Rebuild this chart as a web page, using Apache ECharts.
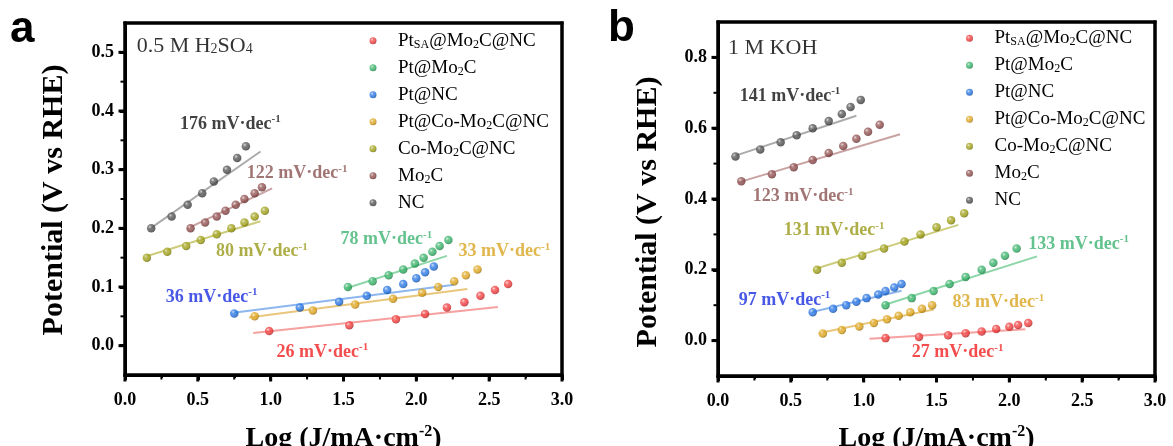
<!DOCTYPE html>
<html><head><meta charset="utf-8">
<script src="https://cdn.jsdelivr.net/npm/echarts@6/dist/echarts.min.js"></script>
<style>html,body{margin:0;padding:0;background:#fff}#c{width:1173px;height:446px}</style>
</head><body><div id="c"></div>
<script>
// ---------- DATA ----------
const names = ['PtSA@Mo2C@NC', 'Pt@Mo2C', 'Pt@NC', 'Pt@Co-Mo2C@NC', 'Co-Mo2C@NC', 'Mo2C', 'NC'];
const xRange = [0, 3];
const xMajorTicks = [0, 0.5, 1.0, 1.5, 2.0, 2.5, 3.0];
const xMinorTicks = [0.25, 0.75, 1.25, 1.75, 2.25, 2.75];
const acidYRange = [-0.05, 0.55];
const acidYTicks = [0, 0.1, 0.2, 0.3, 0.4, 0.5];
const acidYMinor = [0.05, 0.15, 0.25, 0.35, 0.45];
const alkYRange = [-0.1, 0.9];
const alkYTicks = [0, 0.2, 0.4, 0.6, 0.8];
const alkYMinor = [0.1, 0.3, 0.5, 0.7];

// 0.5 M H2SO4 : log J values
const acidLogJ = [
  [0.99, 1.54, 1.86, 2.06, 2.21, 2.33, 2.44, 2.54, 2.63],
  [1.53, 1.70, 1.81, 1.91, 1.99, 2.05, 2.11, 2.16, 2.22],
  [0.75, 1.20, 1.47, 1.66, 1.80, 1.91, 2.00, 2.06, 2.12],
  [0.89, 1.29, 1.58, 1.84, 2.04, 2.15, 2.26, 2.34, 2.42],
  [0.15, 0.29, 0.42, 0.52, 0.63, 0.73, 0.82, 0.89, 0.96],
  [0.45, 0.55, 0.63, 0.69, 0.76, 0.82, 0.89, 0.94],
  [0.18, 0.32, 0.43, 0.53, 0.61, 0.70, 0.77, 0.83]
];
// 0.5 M H2SO4 : potential values
const acidPotential = [
  [0.025, 0.035, 0.045, 0.054, 0.065, 0.074, 0.085, 0.095, 0.105],
  [0.10, 0.11, 0.12, 0.13, 0.14, 0.15, 0.16, 0.17, 0.18],
  [0.055, 0.065, 0.075, 0.085, 0.095, 0.105, 0.115, 0.125, 0.135],
  [0.05, 0.06, 0.07, 0.08, 0.09, 0.10, 0.11, 0.12, 0.13],
  [0.15, 0.16, 0.17, 0.18, 0.19, 0.20, 0.21, 0.22, 0.23],
  [0.20, 0.21, 0.22, 0.23, 0.24, 0.25, 0.26, 0.27],
  [0.20, 0.22, 0.24, 0.26, 0.28, 0.30, 0.32, 0.34]
];
// Tafel fit lines [logJ0, E0, logJ1, E1]
const acidFit = [
  [0.88, 0.0216, 2.56, 0.066],
  [1.52, 0.098, 2.21, 0.153],
  [0.73, 0.0556, 2.26, 0.104],
  [0.85, 0.048, 2.35, 0.0965],
  [0.13, 0.151, 0.93, 0.212],
  [0.43, 0.200, 1.01, 0.268],
  [0.17, 0.199, 0.93, 0.331]
];
const acidTafel = [26, 78, 36, 33, 80, 122, 176];

// 1 M KOH
const alkLogJ = [
  [1.15, 1.38, 1.58, 1.70, 1.81, 1.91, 2.00, 2.06, 2.13],
  [1.15, 1.33, 1.48, 1.59, 1.70, 1.81, 1.89, 1.97, 2.05],
  [0.65, 0.79, 0.88, 0.95, 1.02, 1.10, 1.15, 1.21, 1.26],
  [0.72, 0.85, 0.97, 1.07, 1.16, 1.24, 1.32, 1.40, 1.47],
  [0.68, 0.85, 0.99, 1.14, 1.28, 1.39, 1.50, 1.60, 1.69],
  [0.16, 0.37, 0.52, 0.65, 0.76, 0.86, 0.95, 1.03, 1.11],
  [0.12, 0.29, 0.43, 0.54, 0.65, 0.76, 0.85, 0.91, 0.98]
];
const alkPotential = [
  [0.007, 0.010, 0.015, 0.021, 0.026, 0.033, 0.039, 0.044, 0.050],
  [0.10, 0.12, 0.14, 0.16, 0.18, 0.20, 0.22, 0.24, 0.26],
  [0.08, 0.09, 0.10, 0.11, 0.12, 0.13, 0.14, 0.15, 0.16],
  [0.02, 0.03, 0.04, 0.05, 0.06, 0.07, 0.08, 0.09, 0.10],
  [0.20, 0.22, 0.24, 0.26, 0.28, 0.30, 0.32, 0.34, 0.36],
  [0.45, 0.47, 0.49, 0.51, 0.53, 0.55, 0.57, 0.59, 0.61],
  [0.52, 0.54, 0.56, 0.58, 0.60, 0.62, 0.64, 0.66, 0.68]
];
const alkFit = [
  [1.04, 0.005, 2.11, 0.032],
  [1.13, 0.099, 2.19, 0.238],
  [0.64, 0.080, 1.26, 0.141],
  [0.69, 0.021, 1.48, 0.088],
  [0.67, 0.203, 1.65, 0.327],
  [0.14, 0.447, 1.25, 0.583],
  [0.11, 0.521, 0.95, 0.635]
];
const alkTafel = [27, 133, 97, 83, 131, 123, 141];

// ---------- STYLE / LAYOUT ----------
const SERIF = '"Liberation Serif", "Times New Roman", serif';
const SANS = '"Liberation Sans", Arial, sans-serif';
const pointColors = ['#ee3535', '#2fae62', '#1f6fe0', '#dca116', '#9c9c10', '#8a4646', '#4a4a4a'];
const fitColors = ['#f6a0a0', '#8cd6a8', '#8db7ee', '#e8c77c', '#cccc7c', '#c9a2a2', '#ababab'];
const labelColors = ['#f02020', '#3cb371', '#1a2ee0', '#d9a520', '#9a9a1a', '#8b5252', '#111111'];
const legendText = {
  'PtSA@Mo2C@NC': 'Pt{sub|SA}@Mo{sub|2}C@NC', 'Pt@Mo2C': 'Pt@Mo{sub|2}C', 'Pt@NC': 'Pt@NC',
  'Pt@Co-Mo2C@NC': 'Pt@Co-Mo{sub|2}C@NC', 'Co-Mo2C@NC': 'Co-Mo{sub|2}C@NC', 'Mo2C': 'Mo{sub|2}C', 'NC': 'NC'
};
// slope label anchors (left edge, vertical centre) in data coords
const acidLabelAt = [[1.04, -0.011], [1.48, 0.181], [0.28, 0.083], [2.29, 0.160], [0.625, 0.160], [0.836, 0.294], [0.378, 0.378]];
const alkLabelAt = [[1.33, -0.033], [2.13, 0.273], [0.142, 0.115], [1.61, 0.107], [0.452, 0.311], [0.239, 0.407], [0.149, 0.691]];

function mix(hex, target, t) {
  const a = parseInt(hex.slice(1), 16), b = parseInt(target.slice(1), 16);
  const r = Math.round(((a >> 16) & 255) * (1 - t) + ((b >> 16) & 255) * t);
  const g = Math.round(((a >> 8) & 255) * (1 - t) + ((b >> 8) & 255) * t);
  const bl = Math.round((a & 255) * (1 - t) + (b & 255) * t);
  return 'rgb(' + r + ',' + g + ',' + bl + ')';
}
function sphere(c) {
  return { type: 'radial', x: 0.36, y: 0.34, r: 0.72, colorStops: [
    { offset: 0, color: mix(c, '#ffffff', 0.75) }, { offset: 0.3, color: mix(c, '#ffffff', 0.15) },
    { offset: 0.65, color: c }, { offset: 1, color: mix(c, '#000000', 0.35) } ] };
}
function xAxisCfg(g) {
  return {
    type: 'value', gridIndex: g, min: xRange[0], max: xRange[1], interval: 0.5,
    axisLine: { show: true, onZero: false, lineStyle: { color: '#000', width: 3 } },
    axisTick: { show: true, length: 5, lineStyle: { color: '#000', width: 3 } },
    minorTick: { show: true, splitNumber: 2, length: 3, lineStyle: { color: '#000', width: 2 } },
    splitLine: { show: false },
    axisLabel: { fontFamily: SERIF, fontWeight: 'bold', fontSize: 18, color: '#000', margin: 16, formatter: v => v.toFixed(1) }
  };
}
function yAxisCfg(g, range, step, labelVals) {
  return {
    type: 'value', gridIndex: g, min: range[0], max: range[1], interval: step,
    axisLine: { show: true, onZero: false, lineStyle: { color: '#000', width: 3 } },
    axisTick: { show: true, length: 5, customValues: labelVals, lineStyle: { color: '#000', width: 3 } },
    splitLine: { show: false },
    axisLabel: { customValues: labelVals, fontFamily: SERIF, fontWeight: 'bold', fontSize: 18, color: '#000', margin: 11, formatter: v => v.toFixed(1) }
  };
}
function panelSeries(g, X, Y, fits, slopes, labelAt, cond) {
  const out = [];
  for (let i = 0; i < names.length; i++) {
    out.push({ type: 'line', name: names[i] + ' fit', xAxisIndex: g, yAxisIndex: g, silent: true,
      data: [[fits[i][0], fits[i][1]], [fits[i][2], fits[i][3]]],
      symbol: 'none', lineStyle: { color: fitColors[i], width: 2 }, z: 2 });
  }
  for (let i = 0; i < names.length; i++) {
    out.push({ type: 'scatter', name: names[i], xAxisIndex: g, yAxisIndex: g,
      data: X[i].map((x, j) => [x, Y[i][j]]),
      symbolSize: 8.5, itemStyle: { color: sphere(pointColors[i]) }, z: 3 });
  }
  const lab = slopes.map((s, i) => ({ value: labelAt[i],
    label: { show: true, position: 'right', distance: 0, color: labelColors[i], formatter: s + ' mV\u00b7dec{s|-1}' } }));
  lab.push({ value: cond.at, label: { show: true, position: 'right', distance: 0, color: '#000',
    fontWeight: 'normal', fontSize: 22, formatter: cond.text } });
  out.push({ type: 'scatter', name: 'labels' + g, xAxisIndex: g, yAxisIndex: g, silent: true, symbolSize: 0, z: 10,
    label: { show: true, fontFamily: SERIF, fontWeight: 'bold', fontSize: 18, lineHeight: 20,
      rich: { s: { fontFamily: SERIF, fontWeight: 'bold', fontSize: 11, lineHeight: 11, verticalAlign: 'top' },
              b: { fontFamily: SERIF, fontWeight: 'normal', fontSize: 14, lineHeight: 11, verticalAlign: 'bottom', color: '#000' } } },
    data: lab });
  return out;
}
function legendCfg(left, top) {
  return { show: true, orient: 'vertical', left: left, top: top, padding: 0, itemGap: 7,
    itemWidth: 40, itemHeight: 7, icon: 'circle', data: names, formatter: n => legendText[n],
    textStyle: { fontFamily: SERIF, fontSize: 19, color: '#000', lineHeight: 20,
      rich: { sub: { fontFamily: SERIF, fontSize: 12, lineHeight: 10, verticalAlign: 'bottom', color: '#000' } } } };
}
function xTitle(cx) {
  return { type: 'text', x: cx, y: 439, z: 20, silent: true,
    style: { text: 'Log (J/mA\u00b7cm{s|-2})', fontFamily: SERIF, fontWeight: 'bold', fontSize: 28, lineHeight: 30,
      fill: '#000', align: 'center', verticalAlign: 'middle',
      rich: { s: { fontFamily: SERIF, fontWeight: 'bold', fontSize: 16, lineHeight: 16, verticalAlign: 'top', fill: '#000' } } } };
}
function yTitle(cx, cy) {
  return { type: 'text', x: cx, y: cy, rotation: Math.PI / 2, z: 20, silent: true,
    style: { text: 'Potential (V vs RHE)', fontFamily: SERIF, fontWeight: 'bold', fontSize: 30,
      fill: '#000', align: 'center', verticalAlign: 'middle' } };
}
function panelLetter(t, x, y) {
  return { type: 'text', x: x, y: y, z: 20, silent: true,
    style: { text: t, fontFamily: SANS, fontWeight: 'bold', fontSize: 44, fill: '#000', align: 'left', verticalAlign: 'top' } };
}
const textGraphics = [
  panelLetter('a', 10, 8), panelLetter('b', 608, 7),
  yTitle(54.5, 200), yTitle(648, 212),
  xTitle(343.5), xTitle(936.5)
];

const chart = echarts.init(document.getElementById('c'));
chart.setOption({
  animation: false,
  legend: [legendCfg(369.5, 30.7), legendCfg(966, 28.3)],
  grid: [
    { left: 125, top: 23, width: 437, height: 352, show: true, borderColor: '#000', borderWidth: 3 },
    { left: 718, top: 22, width: 437, height: 354, show: true, borderColor: '#000', borderWidth: 3 }
  ],
  xAxis: [xAxisCfg(0), xAxisCfg(1)],
  yAxis: [yAxisCfg(0, acidYRange, 0.05, acidYTicks), yAxisCfg(1, alkYRange, 0.1, alkYTicks)],
  graphic: textGraphics,
  series: [].concat(
    panelSeries(0, acidLogJ, acidPotential, acidFit, acidTafel, acidLabelAt, { at: [0.08, 0.511], text: '0.5 M H{b|2}SO{b|4}' }),
    panelSeries(1, alkLogJ, alkPotential, alkFit, alkTafel, alkLabelAt, { at: [0.069, 0.825], text: '1 M KOH' })
  )
});

// Frame and tick marks as filled bars placed through the chart's own axis scales.
function frameFor(g, yRange, yMajor, yMinor) {
  const els = [];
  const bar = (x, y, w, h) => els.push({ type: 'rect', z: 50, silent: true, shape: { x: x, y: y, width: w, height: h }, style: { fill: '#000' } });
  const x0 = chart.convertToPixel({ xAxisIndex: g }, xRange[0]);
  const x1 = chart.convertToPixel({ xAxisIndex: g }, xRange[1]);
  const yb = chart.convertToPixel({ yAxisIndex: g }, yRange[0]);
  const yt = chart.convertToPixel({ yAxisIndex: g }, yRange[1]);
  if (![x0, x1, yb, yt].every(isFinite)) return els;
  const L = 3, h = L / 2;
  bar(x0 - h, yt - h, x1 - x0 + L, L);           // top
  bar(x0 - h, yb - h, x1 - x0 + L, L);           // bottom axis
  bar(x0 - h, yt - h, L, yb - yt + L);           // left axis
  bar(x1 - h, yt - h, L, yb - yt + L);           // right
  xMajorTicks.forEach(v => { const p = chart.convertToPixel({ xAxisIndex: g }, v); bar(p - 1.5, yb, 3, 6.5); });
  xMinorTicks.forEach(v => { const p = chart.convertToPixel({ xAxisIndex: g }, v); bar(p - 1, yb, 2, 4.5); });
  yMajor.forEach(v => { const p = chart.convertToPixel({ yAxisIndex: g }, v); bar(x0 - 6.5, p - 1.5, 6.5, 3); });
  yMinor.forEach(v => { const p = chart.convertToPixel({ yAxisIndex: g }, v); bar(x0 - 4.5, p - 1, 4.5, 2); });
  return els;
}
try {
  const frames = [].concat(frameFor(0, acidYRange, acidYTicks, acidYMinor), frameFor(1, alkYRange, alkYTicks, alkYMinor));
  chart.setOption({ graphic: textGraphics.concat(frames) });
} catch (e) { /* keep the chart as drawn */ }
</script>
</body></html>
